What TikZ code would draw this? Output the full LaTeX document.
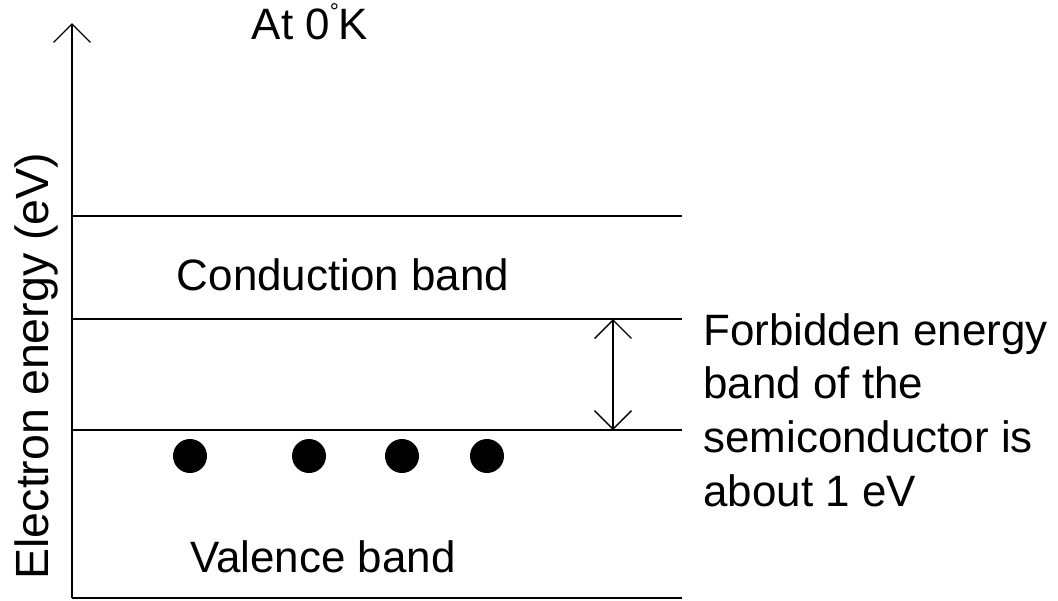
\documentclass[tikz,border=0pt]{standalone}
\usepackage{fontspec}
\setmainfont{Liberation Sans}
\usetikzlibrary{arrows.meta, positioning, calc}
\tikzset{
  bandline/.style={line width=0.8pt},
  barb/.style={-{Straight Barb[length=10.5pt, width=21pt, line width=0.8pt]}},
  electron/.style={circle, fill=black, inner sep=0pt, minimum size=0.68cm},
  bandtext/.style={font=\fontsize{25}{31}\selectfont, inner sep=0pt},
}

\begin{document}
\begin{tikzpicture}[x=0.02cm, y=-0.02cm]
  \useasboundingbox (0, 0) rectangle (1058, 600);

  % Energy axis
  \coordinate (origin) at (72, 598);
  \coordinate (axistop) at (72, 23);
  \draw[bandline, barb] (origin) -- (axistop);
  \node[bandtext, rotate=90, font=\fontsize{26.5}{31}\selectfont] (axislabel) at (36, 366) {Electron energy (eV)};
  \node[bandtext] (temp) at (310, 22) {At 0\raisebox{0.45em}{\fontsize{13}{13}\selectfont °}K};

  % Band edges
  \coordinate (ctop) at (72, 216);
  \coordinate (cbot) at (72, 319);
  \coordinate (vtop) at (72, 430);
  \draw[bandline] (ctop) -- ++(610, 0);
  \draw[bandline] (cbot) -- ++(610, 0);
  \draw[bandline] (vtop) -- ++(610, 0);
  \draw[bandline] (origin) -- ++(610, 0);

  % Gap arrow
  \coordinate (gaptop) at (613, 319);
  \coordinate (gapbot) at (613, 430);
  \draw[bandline, barb] (gapbot) -- (gaptop);
  \draw[bandline, barb] (gaptop) -- (gapbot);

  % Electrons in valence band
  \foreach \ex [count=\i] in {190, 309, 402, 487} {
    \node[electron] (e\i) at (\ex, 456) {};
  }

  % Labels
  \node[bandtext] (cband) at (343, 275) {Conduction band};
  \node[bandtext] (vband) at (323, 557) {Valence band};
  \node[bandtext, anchor=west, align=left, font=\fontsize{25}{30.5}\selectfont] (gaplabel) at (703, 410) {
    Forbidden energy\\band of the\\semiconductor is\\about 1 eV
  };
\end{tikzpicture}
\end{document}
